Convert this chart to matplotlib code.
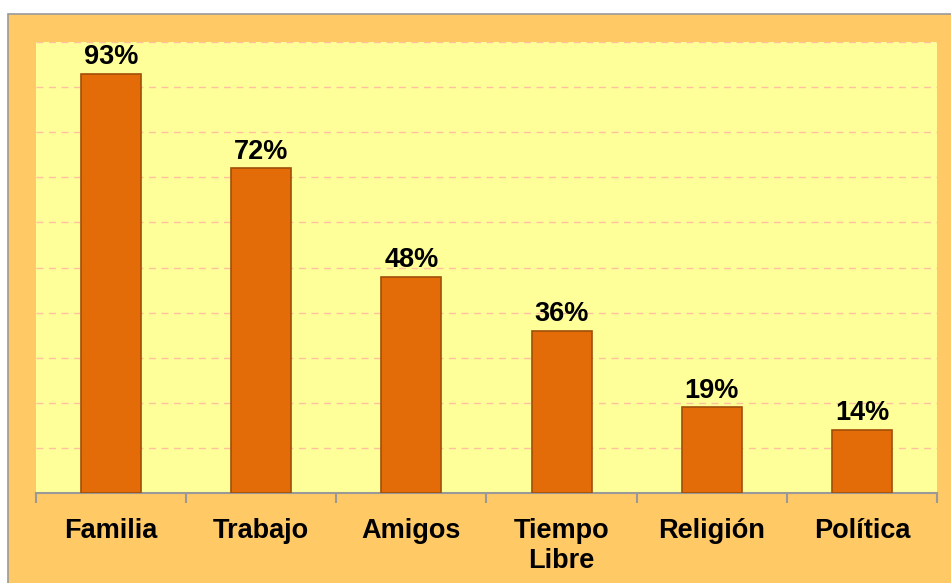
import matplotlib
matplotlib.use("Agg")
import matplotlib.pyplot as plt
from matplotlib.patches import Rectangle

categories = ["Familia", "Trabajo", "Amigos", "Tiempo\nLibre", "Religión", "Política"]
values = [93, 72, 48, 36, 19, 14]
labels = ["93%", "72%", "48%", "36%", "19%", "14%"]

W, H = 951, 583
fig = plt.figure(figsize=(W / 100, H / 100), dpi=100)
fig.patch.set_facecolor("white")
bg = Rectangle((8 / W, -0.01), 1, (H - 14) / H + 0.01, transform=fig.transFigure,
               facecolor="#FFC966", edgecolor="#999999", linewidth=1.2, zorder=-10)
fig.add_artist(bg)

ax = fig.add_axes([36 / W, (H - 493) / H, (937 - 36) / W, (493 - 42) / H])
ax.set_zorder(1)
ax.set_facecolor("#FFFF99")
x = range(len(categories))
ax.bar(x, values, width=0.4, color="#E36C09", edgecolor="#A04F0A", linewidth=1.2, zorder=3)
ax.set_xlim(-0.5, len(categories) - 0.5)
ax.set_ylim(0, 100)
ax.set_yticks(range(10, 101, 10))
ax.yaxis.grid(True, color="#FFC0A0", linestyle=(0, (5, 4)), linewidth=1, zorder=1)
ax.tick_params(axis="y", left=False, labelleft=False)
for s in ["top", "right", "left"]:
    ax.spines[s].set_visible(False)
ax.spines["bottom"].set_color("#999999")
ax.spines["bottom"].set_linewidth(1.5)
ax.set_xticks([i - 0.5 for i in range(len(categories) + 1)])
ax.set_xticklabels([])
ax.tick_params(axis="x", direction="out", length=7, color="#999999", width=1.5)
for i, c in enumerate(categories):
    ax.text(i, -5.5, c, ha="center", va="top", fontsize=19.5, fontweight="bold",
            family="Liberation Sans", linespacing=1.22)
for i, (v, l) in enumerate(zip(values, labels)):
    ax.text(i, v + 0.8, l, ha="center", va="bottom", fontsize=19.5, fontweight="bold",
            family="Liberation Sans", zorder=4)

fig.savefig("out.png", dpi=100, facecolor=fig.get_facecolor())
